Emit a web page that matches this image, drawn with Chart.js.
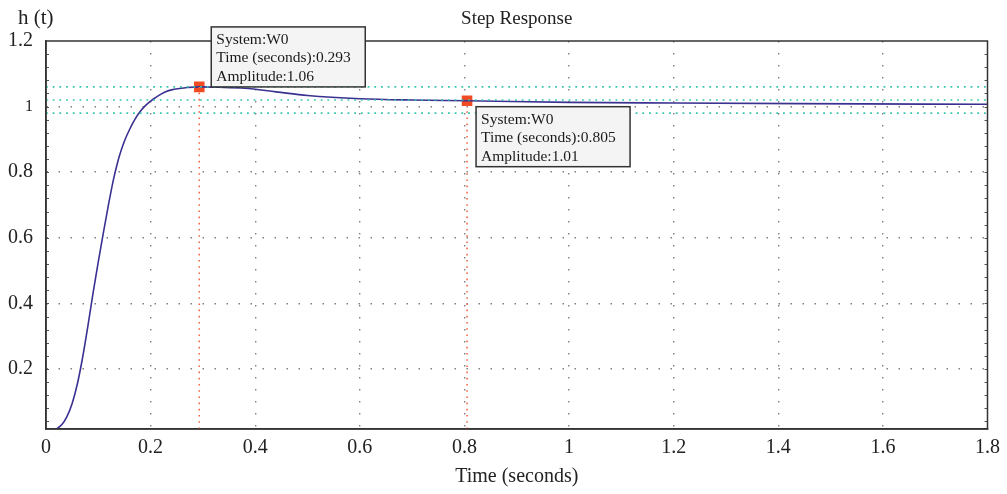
<!DOCTYPE html>
<html>
<head>
<meta charset="utf-8">
<script src="https://cdn.jsdelivr.net/npm/chart.js@4/dist/chart.umd.min.js"></script>
<style>
  body { margin: 0; background: #fff; }
</style>
</head>
<body>
<canvas id="stepChart" width="1007" height="494"></canvas>
<script>
// Step response
const timeS = [0, 0.01, 0.02, 0.03, 0.04, 0.05, 0.06, 0.07, 0.08, 0.09, 0.1, 0.11, 0.12, 0.125, 0.13, 0.135, 0.14, 0.15, 0.16, 0.17, 0.18, 0.19, 0.2, 0.21, 0.22, 0.23, 0.24, 0.255, 0.27, 0.293, 0.33, 0.38, 0.44, 0.5, 0.6, 0.7, 0.805, 1.0, 1.2, 1.44, 1.8];
const amplitude = [0, 0.004, 0.017, 0.03, 0.055, 0.095, 0.155, 0.235, 0.33, 0.432, 0.527, 0.618, 0.706, 0.747, 0.785, 0.818, 0.848, 0.895, 0.931, 0.961, 0.985, 1.003, 1.017, 1.028, 1.038, 1.046, 1.051, 1.055, 1.058, 1.06, 1.059, 1.056, 1.045, 1.034, 1.024, 1.02, 1.018, 1.013, 1.011, 1.009, 1.007];

// characteristic points (peak, settling)
const markTimes = [0.293, 0.805];
const markAmps = [1.06, 1.018];
const markLabels = [
    ['System:W0', 'Time (seconds):0.293', 'Amplitude:1.06'],
    ['System:W0', 'Time (seconds):0.805', 'Amplitude:1.01']
];
// dotted horizontal levels: peak, settling band
const levelLines = [1.06, 1.02, 0.98];

const xTicks = [0, 0.2, 0.4, 0.6, 0.8, 1, 1.2, 1.4, 1.6, 1.8];
const yTicks = [0.2, 0.4, 0.6, 0.8, 1, 1.2];
const xMin = 0, xMax = 1.8, yMin = 0.017, yMax = 1.2;

const serif = "'Liberation Serif', 'DejaVu Serif', serif";

const datasets = [];

levelLines.forEach(v => {
    datasets.push({
        data: [{ x: xMin, y: v }, { x: xMax, y: v }],
        borderColor: '#35c6ad',
        borderWidth: 1.6,
        borderDash: [1.8, 4.9],
        pointRadius: 0
    });
});

markTimes.forEach((t, i) => {
    datasets.push({
        data: [{ x: t, y: yMin }, { x: t, y: markAmps[i] }],
        borderColor: '#f2694a',
        borderWidth: 1.6,
        borderDash: [1.6, 4.6],
        pointRadius: 0
    });
});

datasets.push({
    data: timeS.map((t, i) => ({ x: t, y: amplitude[i] })),
    borderColor: '#3a3190',
    borderWidth: 1.6,
    cubicInterpolationMode: 'monotone',
    pointRadius: 0
});

datasets.push({
    data: markTimes.map((t, i) => ({ x: t, y: markAmps[i] })),
    showLine: false,
    pointStyle: 'rect',
    pointRadius: 7.5,
    backgroundColor: '#f04b22',
    borderColor: '#f04b22',
    borderWidth: 0
});

// frame, minor ticks, y label and data tip boxes
const extrasPlugin = {
    id: 'extras',
    afterDraw(chart) {
        const ctx = chart.ctx;
        const a = chart.chartArea;
        const xs = chart.scales.x, ys = chart.scales.y;
        ctx.save();

        // minor ticks on left/right
        ctx.strokeStyle = '#555';
        ctx.lineWidth = 1;
        for (let v = 0.04; v < yMax - 0.001; v += 0.04) {
            const py = Math.round(ys.getPixelForValue(v)) + 0.5;
            ctx.beginPath();
            ctx.moveTo(a.left, py); ctx.lineTo(a.left + 3, py);
            ctx.moveTo(a.right, py); ctx.lineTo(a.right - 3, py);
            ctx.stroke();
        }

        ctx.strokeStyle = '#333';
        ctx.lineWidth = 1.5;
        ctx.strokeRect(a.left, a.top, a.right - a.left, a.bottom - a.top);

        ctx.fillStyle = '#222';
        ctx.font = '21px ' + serif;
        ctx.textAlign = 'left';
        ctx.textBaseline = 'middle';
        ctx.fillText('h (t)', a.left - 28, 18);

        // data tips
        markTimes.forEach((t, i) => {
            const mx = xs.getPixelForValue(t);
            const my = ys.getPixelForValue(markAmps[i]);
            const w = 154, h = 60;
            const bx = i === 0 ? mx + 12 : mx + 9;
            const by = i === 0 ? my - h : my + 6;
            ctx.fillStyle = '#f4f4f4';
            ctx.fillRect(bx, by, w, h);
            ctx.strokeStyle = '#333';
            ctx.lineWidth = 1.5;
            ctx.strokeRect(bx, by, w, h);
            ctx.fillStyle = '#1a1a1a';
            ctx.font = '15.5px ' + serif;
            markLabels[i].forEach((line, k) => {
                ctx.fillText(line, bx + 5, by + 13 + k * 18.5);
            });
        });
        ctx.restore();
    }
};

new Chart(document.getElementById('stepChart'), {
    type: 'line',
    data: { datasets: datasets },
    plugins: [extrasPlugin],
    options: {
        responsive: false,
        animation: false,
        devicePixelRatio: 1,
        layout: { padding: { left: 0, right: 16, top: 0, bottom: 0 } },
        plugins: {
            legend: { display: false },
            tooltip: { enabled: false },
            title: {
                display: true,
                text: 'Step Response',
                fullSize: false,
                color: '#222',
                font: { family: serif, size: 19, weight: 'normal' },
                padding: { top: 8, bottom: 10.2 }
            }
        },
        scales: {
            x: {
                type: 'linear',
                min: xMin,
                max: xMax,
                afterBuildTicks: s => { s.ticks = xTicks.map(v => ({ value: v })); },
                afterFit: s => { s.height = 65; },
                ticks: {
                    callback: v => String(v),
                    color: '#222',
                    padding: 7,
                    maxRotation: 0,
                    font: { family: serif, size: 20 }
                },
                grid: {
                    drawTicks: false,
                    lineWidth: 1.4,
                    color: c => (c.tick && (c.tick.value === xMin || c.tick.value === xMax)) ? 'rgba(0,0,0,0)' : '#808080'
                },
                border: { display: true, color: '#333', width: 1.5, dash: [1.5, 10.5] },
                title: {
                    display: true,
                    text: 'Time (seconds)',
                    color: '#222',
                    font: { family: serif, size: 20 },
                    padding: { top: 0, bottom: 5 }
                }
            },
            y: {
                type: 'linear',
                min: yMin,
                max: yMax,
                afterBuildTicks: s => { s.ticks = yTicks.map(v => ({ value: v })); },
                afterFit: s => { s.width = 46; },
                ticks: {
                    callback: v => String(v),
                    color: '#222',
                    padding: 13,
                    font: c => ({ family: serif, size: (c.tick && c.tick.value === 1) ? 16 : 20 })
                },
                grid: {
                    drawTicks: false,
                    lineWidth: 1.4,
                    color: c => (c.tick && c.tick.value === yMax) ? 'rgba(0,0,0,0)' : '#808080'
                },
                border: { display: true, color: '#333', width: 1.5, dash: [1.5, 10.5] }
            }
        }
    }
});
</script>
</body>
</html>
